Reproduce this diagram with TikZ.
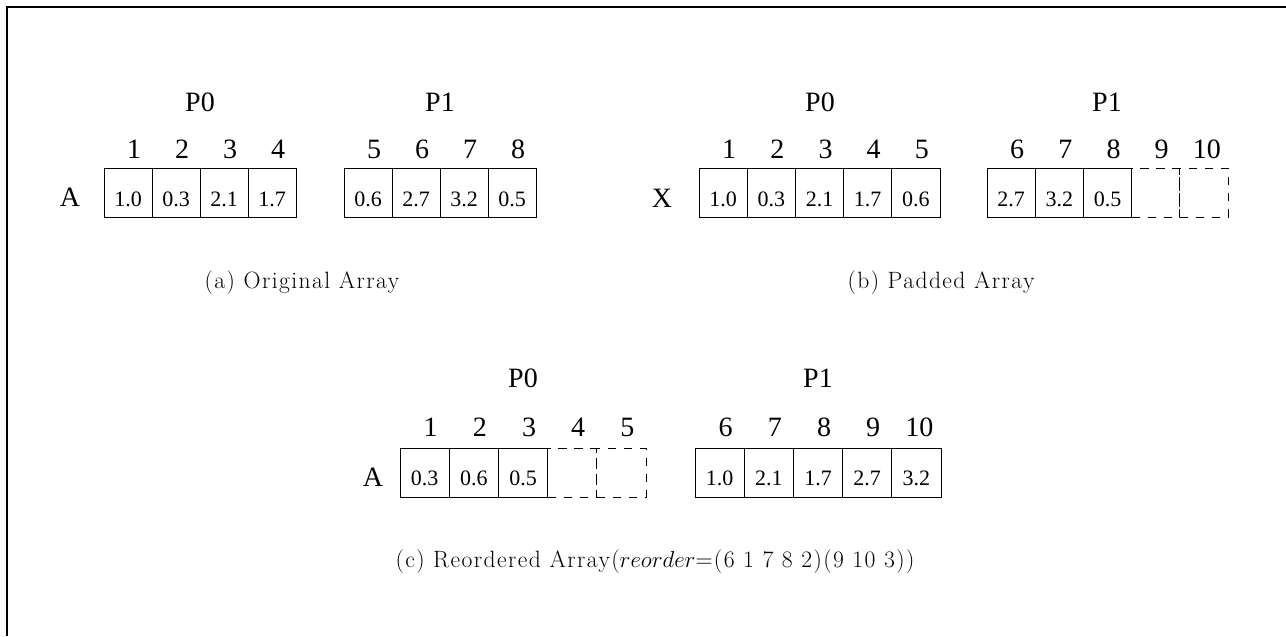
\documentclass[tikz,border=0pt]{standalone}
\usepackage{fontspec}
\setmainfont{Liberation Serif}
\newfontfamily\capfont[LetterSpace=6]{Latin Modern Roman}
\begin{document}
\begin{tikzpicture}[x=0.75pt,y=-0.75pt,
  cell/.style={draw,rectangle,line width=0.75pt,inner sep=0pt,minimum height=36.75pt},
  dcell/.style={cell,dashed,dash pattern=on 6.5pt off 5.5pt},
  val/.style={font=\fontsize{16.5}{16.5}\selectfont,inner sep=0pt},
  idx/.style={font=\fontsize{21}{21}\selectfont,inner sep=0pt},
  lbl/.style={font=\fontsize{21}{21}\selectfont,inner sep=0pt},
  captxt/.style={font=\capfont\fontsize{17.7}{17.7}\selectfont,inner sep=0pt}]
\useasboundingbox (0,0) rectangle (1286,636);
\draw[line width=2pt] (7,636) -- (7,7) -- (1286,7);

% ---------- panel (a) ----------
\node[lbl] (aA) at (70,197) {A};
\node[lbl] (aP0) at (200,102) {P0};
\node[lbl] (aP1) at (440,102) {P1};
\foreach \v/\n [count=\i] in {1.0/1,0.3/2,2.1/3,1.7/4} {
  \node[cell,minimum width=36pt] (a0c\i) at ({104+48*(\i-0.5)},192.5) {};
  \node[val] (a0v\i) at ([yshift=-4.9pt]a0c\i.center) {\v};
  \node[idx] (a0i\i) at ([xshift=4.5pt,yshift=13.5pt]a0c\i.north) {\n};
}
\foreach \v/\n [count=\i] in {0.6/5,2.7/6,3.2/7,0.5/8} {
  \node[cell,minimum width=36pt] (a1c\i) at ({344+48*(\i-0.5)},192.5) {};
  \node[val] (a1v\i) at ([yshift=-4.9pt]a1c\i.center) {\v};
  \node[idx] (a1i\i) at ([xshift=4.5pt,yshift=13.5pt]a1c\i.north) {\n};
}
\node[captxt] (acap) at (302,283) {(a) Original Array};

% ---------- panel (b) ----------
\node[lbl] (bX) at (662,198) {X};
\node[lbl] (bP0) at (820,102) {P0};
\node[lbl] (bP1) at (1107,102) {P1};
\foreach \v/\n [count=\i] in {1.0/1,0.3/2,2.1/3,1.7/4,0.6/5} {
  \node[cell,minimum width=36.15pt] (b0c\i) at ({699+48.2*(\i-0.5)},192.5) {};
  \node[val] (b0v\i) at ([yshift=-4.9pt]b0c\i.center) {\v};
  \node[idx] (b0i\i) at ([xshift=4.5pt,yshift=13.5pt]b0c\i.north) {\n};
}
\foreach \v/\n [count=\i] in {2.7/6,3.2/7,0.5/8} {
  \node[cell,minimum width=36.15pt] (b1c\i) at ({987+48.2*(\i-0.5)},192.5) {};
  \node[val] (b1v\i) at ([yshift=-4.9pt]b1c\i.center) {\v};
  \node[idx] (b1i\i) at ([xshift=4.5pt,yshift=13.5pt]b1c\i.north) {\n};
}
\node[dcell,minimum width=36.15pt] (b1c4) at ({987+48.2*3.5},192.5) {};
\node[dcell,minimum width=36.15pt] (b1c5) at ({987+48.2*4.5},192.5) {};
\node[idx] (b1i4) at ([xshift=4.5pt,yshift=13.5pt]b1c4.north) {9};
\node[idx] (b1i5) at ([xshift=2.25pt,yshift=13.5pt]b1c5.north) {10};
\node[captxt] (bcap) at (941,283) {(b) Padded Array};

% ---------- panel (c) ----------
\node[lbl] (cA) at (373,477) {A};
\node[lbl] (cP0) at (523,378) {P0};
\node[lbl] (cP1) at (818,378) {P1};
\foreach \v/\n [count=\i] in {0.3/1,0.6/2,0.5/3} {
  \node[cell,minimum width=36.9pt] (c0c\i) at ({400+49.2*(\i-0.5)},472.5) {};
  \node[val] (c0v\i) at ([yshift=-4.1pt]c0c\i.center) {\v};
  \node[idx] (c0i\i) at ([xshift=4.5pt,yshift=15pt]c0c\i.north) {\n};
}
\node[dcell,minimum width=36.9pt] (c0c4) at ({400+49.2*3.5},472.5) {};
\node[dcell,minimum width=36.9pt] (c0c5) at ({400+49.2*4.5},472.5) {};
\node[idx] (c0i4) at ([xshift=4.5pt,yshift=15pt]c0c4.north) {4};
\node[idx] (c0i5) at ([xshift=4.5pt,yshift=15pt]c0c5.north) {5};
\foreach \v/\n [count=\i] in {1.0/6,2.1/7,1.7/8,2.7/9} {
  \node[cell,minimum width=36.9pt] (c1c\i) at ({695+49.2*(\i-0.5)},472.5) {};
  \node[val] (c1v\i) at ([yshift=-4.1pt]c1c\i.center) {\v};
  \node[idx] (c1i\i) at ([xshift=4.5pt,yshift=15pt]c1c\i.north) {\n};
}
\node[cell,minimum width=36.9pt] (c1c5) at ({695+49.2*4.5},472.5) {};
\node[val] (c1v5) at ([yshift=-4.1pt]c1c5.center) {3.2};
\node[idx] (c1i5) at ([xshift=2.25pt,yshift=15pt]c1c5.north) {10};
\node[captxt] (ccap) at (655,562) {(c) Reordered Array($reorder$=(6 1 7 8 2)(9 10 3))};
\end{tikzpicture}
\end{document}
